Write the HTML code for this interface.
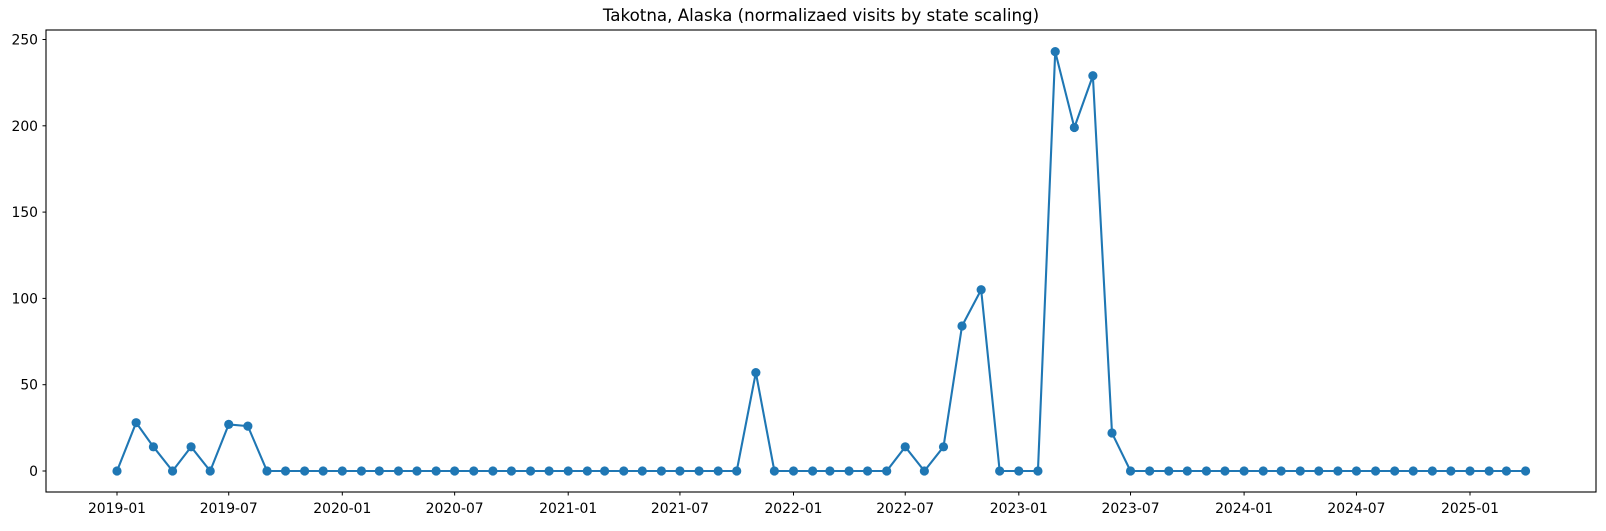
<!DOCTYPE html>
<html><head><meta charset="utf-8"><style>
html,body{margin:0;padding:0;background:#fff;}
svg text{font-family:"DejaVu Sans","Liberation Sans",sans-serif;fill:#000;}
</style></head><body>
<svg id="chart" width="1606" height="526" xmlns="http://www.w3.org/2000/svg">
<text x="821" y="21" font-size="16.7" text-anchor="middle">Takotna, Alaska (normalizaed visits by state scaling)</text>
<g id="axes"></g>
<g id="series"></g>
<rect x="46" y="30" width="1550" height="462" fill="none" stroke="#000" stroke-width="1.1"/>
</svg>
<script>
const startMonth = "2019-01";
const values = [0,28,14,0,14,0,27,26,0,0,0,0,0,0,0,0,0,0,0,0,0,0,0,0,0,0,0,0,0,0,0,0,0,0,57,0,0,0,0,0,0,0,14,0,14,84,105,0,0,0,243,199,229,22,0,0,0,0,0,0,0,0,0,0,0,0,0,0,0,0,0,0,0,0,0,0];
const yTicks = [0,50,100,150,200,250];
const xTicks = ["2019-01","2019-07","2020-01","2020-07","2021-01","2021-07","2022-01","2022-07","2023-01","2023-07","2024-01","2024-07","2025-01"];

const NS="http://www.w3.org/2000/svg";
const T0=Date.UTC(2019,0,1);
function days(s){const [y,m]=s.split("-").map(Number);return (Date.UTC(y,m-1,1)-T0)/86400000;}
function xs(d){return 117+d*0.61725;}
function ys(v){return 471-v*1.726;}
function mk(tag,attrs,parent){const e=document.createElementNS(NS,tag);for(const k in attrs)e.setAttribute(k,attrs[k]);parent.appendChild(e);return e;}
const axes=document.getElementById("axes"), ser=document.getElementById("series");
yTicks.forEach(v=>{
  const y=ys(v);
  const t=mk("line",{x1:42.5,x2:46,y1:y,y2:y,stroke:"#000","stroke-width":1},axes);
  
  
  const l=mk("text",{x:38,y:y+5,"font-size":13.9,"text-anchor":"end"},axes);
  l.textContent=v;
  
  
});
xTicks.forEach(s=>{
  const x=xs(days(s));
  const t=mk("line",{x1:x,x2:x,y1:492,y2:495.5,stroke:"#000","stroke-width":1},axes);
  
  
  const l=mk("text",{x:x,y:513,"font-size":13.9,"text-anchor":"middle"},axes);
  l.textContent=s;
  
  
});
const [sy,sm]=startMonth.split("-").map(Number);
const pts=values.map((v,i)=>{const d=(Date.UTC(sy,sm-1+i,1)-T0)/86400000;return [xs(d),ys(v)];});
const line=mk("polyline",{points:pts.map(p=>p.join(",")).join(" "),fill:"none",stroke:"#1f77b4","stroke-width":2.1,"stroke-linejoin":"round"},ser);


pts.forEach(p=>{
  const c=mk("circle",{cx:p[0],cy:p[1],r:4.6,fill:"#1f77b4"},ser);
  
  
});
</script>
</body></html>
